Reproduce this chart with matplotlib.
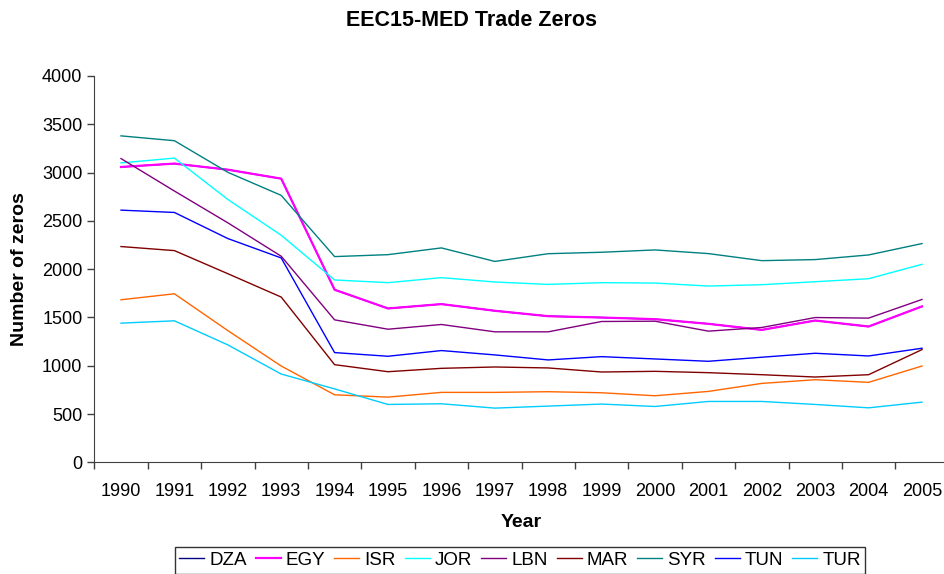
import matplotlib
matplotlib.use('Agg')
import matplotlib.pyplot as plt
import numpy as np

plt.rcParams['font.family'] = ['Liberation Sans', 'DejaVu Sans']

# years on the x axis
years = [str(y) for y in range(1990, 2006)]

# number of zeros per country
EGY = [3058, 3093, 3030, 2937, 1787, 1593, 1638, 1569, 1513, 1499, 1482, 1434, 1371, 1468, 1406, 1614]
DZA = EGY  # navy line sits right under the magenta one
ISR = [1683, 1745, 1364, 997, 699, 675, 724, 724, 731, 720, 689, 734, 817, 855, 828, 997]
JOR = [3100, 3150, 2722, 2351, 1888, 1860, 1912, 1867, 1842, 1860, 1856, 1825, 1839, 1870, 1901, 2050]
LBN = [3145, 2809, 2480, 2134, 1475, 1378, 1427, 1351, 1351, 1458, 1461, 1358, 1396, 1499, 1493, 1686]
MAR = [2234, 2192, 1953, 1711, 1011, 938, 973, 987, 977, 935, 942, 928, 907, 883, 907, 1167]
SYR = [3380, 3330, 3003, 2764, 2130, 2150, 2220, 2080, 2160, 2175, 2199, 2161, 2088, 2099, 2147, 2265]
TUN = [2611, 2587, 2317, 2116, 1136, 1098, 1157, 1112, 1060, 1094, 1070, 1046, 1088, 1129, 1101, 1181]
TUR = [1441, 1465, 1216, 914, 760, 599, 606, 561, 582, 603, 578, 630, 630, 599, 564, 623]

series = [('DZA', DZA, '#000080'), ('EGY', EGY, '#FF00FF'), ('ISR', ISR, '#FF6600'),
          ('JOR', JOR, '#00FFFF'), ('LBN', LBN, '#800080'), ('MAR', MAR, '#800000'),
          ('SYR', SYR, '#008080'), ('TUN', TUN, '#0000FF'), ('TUR', TUR, '#00CCFF')]

fig = plt.figure(figsize=(9.44, 5.74), dpi=100)
ax = fig.add_axes([94.3 / 944, 111.7 / 574, 854.4 / 944, 386.3 / 574])

x = np.arange(len(years))
for name, vals, col in series:
    lw = 1.6 if name == 'EGY' else 1.0
    ax.plot(x, vals, color=col, lw=lw, label=name)

ax.set_xlim(-0.5, len(years) - 0.5)
ax.set_ylim(0, 4000)
ax.set_yticks(range(0, 4001, 500))
ax.set_xticks(x)
ax.set_xticklabels(years)
ax.set_xticks(np.arange(-0.5, len(years), 1), minor=True)
ax.tick_params(axis='x', which='major', length=0, labelsize=13, pad=15)
ax.tick_params(axis='x', which='minor', length=5, width=1, color='#404040')
ax.tick_params(axis='y', length=5, width=1, color='#404040', labelsize=13)

for s in ['top', 'right']:
    ax.spines[s].set_visible(False)
for s in ['left', 'bottom']:
    ax.spines[s].set_color('#404040')

ax.set_xlabel('Year', fontsize=14, fontweight='bold', labelpad=10)
ax.set_ylabel('Number of zeros', fontsize=14, fontweight='bold', labelpad=10)
fig.text(0.5, 1 - 21 / 574, 'EEC15-MED Trade Zeros', ha='center', va='center',
         fontsize=15.5, fontweight='bold')

leg = fig.legend(loc='upper center', bbox_to_anchor=(520 / 944, 1 - 547 / 574), ncol=9,
                 fontsize=13.5, frameon=True, fancybox=False, handlelength=1.33,
                 handletextpad=0.27, columnspacing=0.48, borderpad=0.25, borderaxespad=0)
leg.get_frame().set_edgecolor('black')
leg.get_frame().set_linewidth(1.0)

fig.savefig('out.png', dpi=100)
